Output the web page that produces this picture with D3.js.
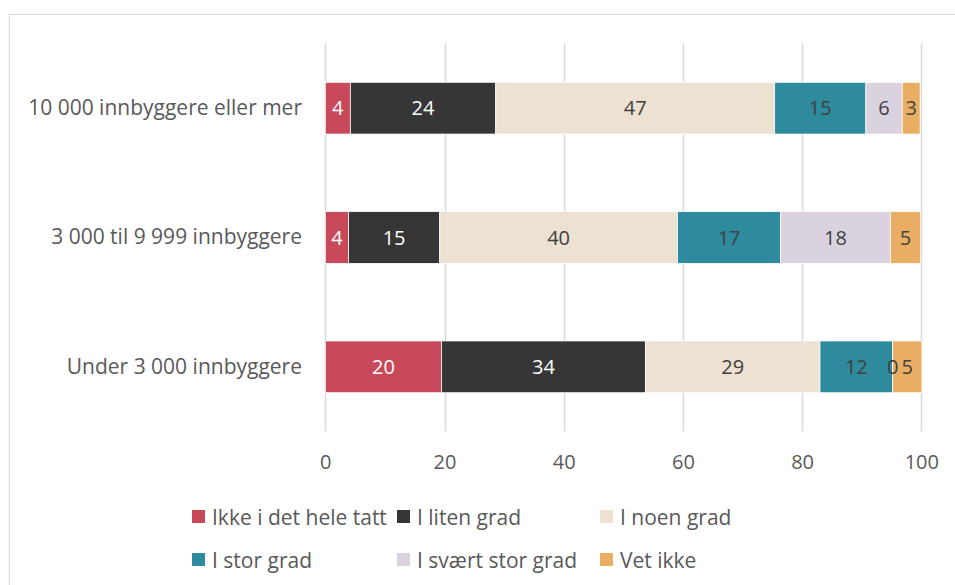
<!DOCTYPE html>
<html>
<head>
<meta charset="utf-8">
<script src="https://cdn.jsdelivr.net/npm/d3@7"></script>
<style>
  body { margin: 0; background: #fff; }
  svg text { font-family: "Open Sans", sans-serif; }
</style>
</head>
<body>
<script>
const [width, height] = [955, 585];

// data (percent)
const categories = ['10 000 innbyggere eller mer', '3 000 til 9 999 innbyggere', 'Under 3 000 innbyggere'];
const seriesNames = ['Ikke i det hele tatt', 'I liten grad', 'I noen grad', 'I stor grad', 'I svært stor grad', 'Vet ikke'];
const ikkeIDetHeleTatt = [4.2, 3.9, 19.5];
const iLitenGrad = [24.4, 15.3, 34.2];
const iNoenGrad = [46.8, 39.9, 29.3];
const iStorGrad = [15.3, 17.3, 12.2];
const iSvaertStorGrad = [6.1, 18.4, 0];
const vetIkke = [3.0, 5.1, 4.9];
const xTicks = [0, 20, 40, 60, 80, 100];

const colors = ['#c84a5a', '#363636', '#ede1d2', '#2e8b9d', '#dad3df', '#e9ae63'];
const labelColors = ['#ffffff', '#ffffff', '#404040', '#404040', '#404040', '#404040'];

const seriesValues = [ikkeIDetHeleTatt, iLitenGrad, iNoenGrad, iStorGrad, iSvaertStorGrad, vetIkke];
const table = categories.map((c, i) => {
  const row = {category: c};
  seriesNames.forEach((s, j) => row[s] = seriesValues[j][i]);
  return row;
});
const stacked = d3.stack().keys(seriesNames)(table);

const svg = d3.select('body').append('svg')
  .attr('width', width)
  .attr('height', height);

// chart border (cropped on right and bottom)
svg.append('rect')
  .attr('x', 9.5).attr('y', 14.5)
  .attr('width', 1000).attr('height', 1000)
  .attr('fill', 'none')
  .attr('stroke', '#d9d9d9');

const xScale = d3.scaleLinear().domain([0, 100]).range([325.3, 921.3]);
const yScale = d3.scaleBand().domain(categories).range([43.5, 431.5])
  .paddingInner(0.6)
  .paddingOuter(0.3);

// gridlines
svg.append('g')
  .selectAll('line')
  .data(xTicks)
  .enter()
  .append('line')
  .attr('x1', d => Math.round(xScale(d)) + 0.5)
  .attr('x2', d => Math.round(xScale(d)) + 0.5)
  .attr('y1', 43.5)
  .attr('y2', 431.5)
  .attr('stroke', '#d9d9d9')
  .attr('stroke-width', 1.5);

// x axis labels
const axisx = d3.axisBottom(xScale).tickValues(xTicks).tickSize(0).tickPadding(0);
const g_axis = svg.append('g')
  .attr('transform', `translate(0, ${455})`)
  .call(axisx);
g_axis.select('.domain').remove();
g_axis.selectAll('text')
  .attr('fill', '#595959')
  .style('font-size', '20px')
  .style('font-family', '"Open Sans", sans-serif');

// category labels
const axisy = d3.axisLeft(yScale).tickSize(0).tickPadding(0);
const g_yaxis = svg.append('g')
  .attr('transform', `translate(${302}, 0)`)
  .call(axisy);
g_yaxis.select('.domain').remove();
g_yaxis.selectAll('text')
  .attr('fill', '#595959')
  .style('font-size', '21px')
  .style('font-family', '"Open Sans", sans-serif');

// bars
const layers = svg.append('g')
  .selectAll('g')
  .data(stacked)
  .enter()
  .append('g')
  .attr('fill', (d, i) => colors[i]);

layers.selectAll('rect')
  .data(d => d)
  .enter()
  .append('rect')
  .attr('x', d => xScale(d[0]))
  .attr('y', d => yScale(d.data.category))
  .attr('width', d => xScale(d[1]) - xScale(d[0]))
  .attr('height', yScale.bandwidth())
  .attr('stroke', '#ffffff')
  .attr('stroke-width', 0.75);

// data labels, drawn above all bars
const labels = svg.append('g')
  .selectAll('g')
  .data(stacked)
  .enter()
  .append('g')
  .attr('fill', (d, i) => labelColors[i]);

labels.selectAll('text')
  .data(d => d)
  .enter()
  .append('text')
  .attr('x', d => (xScale(d[0]) + xScale(d[1])) / 2)
  .attr('y', d => yScale(d.data.category) + yScale.bandwidth() / 2)
  .attr('dy', '0.36em')
  .attr('text-anchor', 'middle')
  .style('font-size', '20px')
  .text(d => Math.round(d[1] - d[0]));

// legend
const legendPos = [
  [192, 517], [397, 517], [600, 517],
  [192, 560], [397, 560], [600, 560]
];
const legend = svg.append('g')
  .selectAll('g')
  .data(seriesNames)
  .enter()
  .append('g')
  .attr('transform', (d, i) => `translate(${legendPos[i][0]}, ${legendPos[i][1]})`);
legend.append('rect')
  .attr('x', 0).attr('y', -7)
  .attr('width', 13).attr('height', 13)
  .attr('fill', (d, i) => colors[i]);
legend.append('text')
  .attr('x', 20)
  .attr('y', 0)
  .attr('dy', '0.36em')
  .attr('fill', '#595959')
  .style('font-size', '21px')
  .text(d => d);
</script>
</body>
</html>
